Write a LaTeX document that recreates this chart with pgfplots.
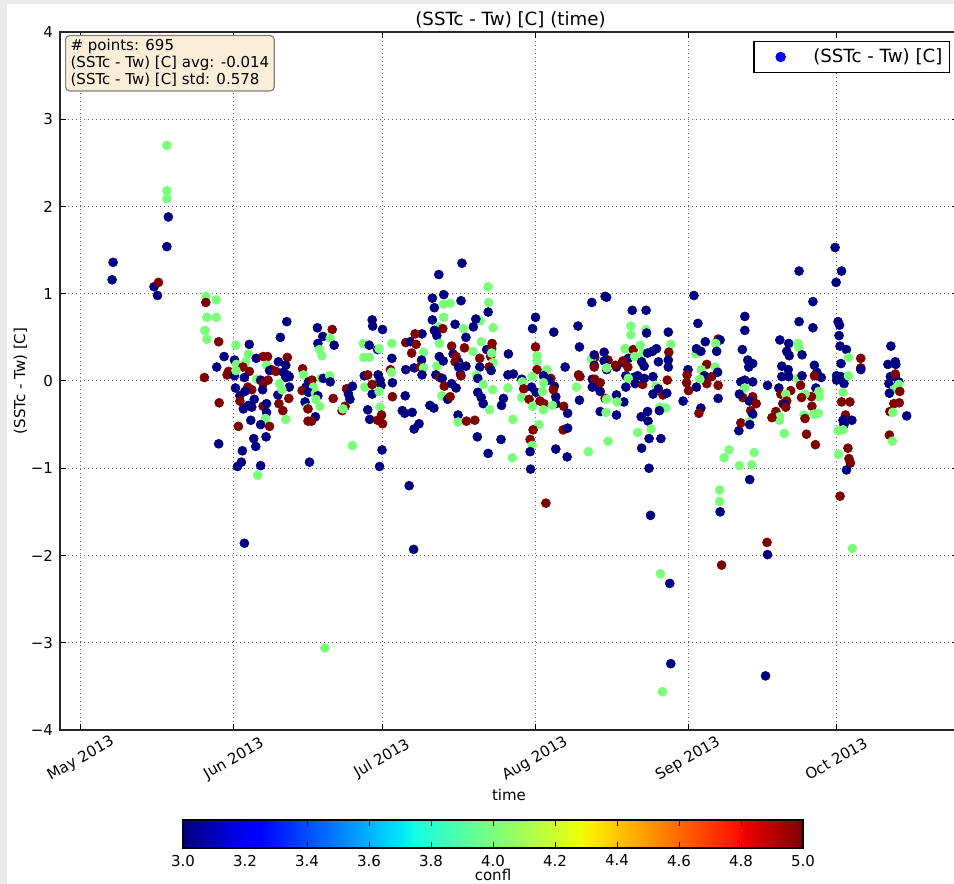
\documentclass[border=0pt]{standalone}
\usepackage{fontspec}
\setmainfont{DejaVu Sans}
\usepackage{pgfplots}
\pgfplotsset{compat=1.18}
\newcommand\tfont{\fontsize{7.5}{9}\selectfont}
\pgfplotsset{
  colormap={mpljet}{rgb(0pt)=(0,0,0.5); rgb(110pt)=(0,0,1); rgb(125pt)=(0,0,1); rgb(340pt)=(0,0.86,1); rgb(350pt)=(0,0.9,0.968); rgb(375pt)=(0.081,1,0.887); rgb(640pt)=(0.935,1,0.032); rgb(650pt)=(0.968,0.963,0); rgb(660pt)=(1,0.926,0); rgb(890pt)=(1,0.074,0); rgb(910pt)=(0.909,0,0); rgb(1000pt)=(0.5,0,0)},
  every tick label/.append style={font=\tfont},
  mylegimg/.style={legend image code/.code={\path (0pt,-2pt) (26pt,2pt); \draw[mark repeat=2,mark phase=2,##1] plot coordinates {(0pt,0pt) (13pt,0pt) (26pt,0pt)};}},
}
\definecolor{boxfill}{RGB}{250,238,217}
\definecolor{boxedge}{RGB}{128,128,128}
\definecolor{bggray}{RGB}{235,235,235}
\begin{document}
\begin{tikzpicture}
\fill[bggray] (0,0) rectangle (477pt,442pt);
\fill[white] (3.5pt,0) rectangle (477pt,440pt);
\useasboundingbox (0,0) rectangle (477pt,442pt);
\begin{axis}[
  at={(30pt,77pt)}, anchor=south west,
  width=449pt, height=349pt, scale only axis,
  xmin=-4.255, xmax=177.7, ymin=-4, ymax=4,
  xtick={0,31,61,92,123,153},
  xticklabels={May 2013,Jun 2013,Jul 2013,Aug 2013,Sep 2013,Oct 2013},
  ytick={-4,-3,-2,-1,0,1,2,3,4},
  yticklabels={−4,−3,−2,−1,0,1,2,3,4},
  grid=major,
  grid style={black!60, line width=0.5pt, dash pattern=on 0.5pt off 1.5pt},
  axis line style={black!85, line width=0.7pt},
  tick style={black, line width=0.5pt},
  major tick length=3pt,
  tick align=inside,
  x tick label style={yshift=-14.5pt, rotate=30, anchor=center},
  title={(SSTc - Tw) [C] (time)},
  title style={font=\fontsize{9.1}{11}\selectfont, at={(axis description cs:0.5,1)}, anchor=center, xshift=0.75pt},
  xlabel={time},
  xlabel style={font=\tfont, at={(axis description cs:0.5,-0.0931)}, anchor=center},
  ylabel={(SSTc - Tw) [C]},
  ylabel style={font=\tfont, at={(axis description cs:-0.044,0.5)}, anchor=center},
  legend style={at={(0.9911,0.9871)}, anchor=north east, draw=black, line width=0.6pt, fill=white, font=\fontsize{9.1}{11}\selectfont, inner xsep=0pt, inner ysep=1.5pt, column sep=3pt, nodes={inner xsep=0pt, inner ysep=2pt}},
  legend cell align=left,
  colormap name=mpljet,
  point meta min=3, point meta max=5,
]
\addlegendimage{only marks, mark=*, mark size=2.3pt, blue, mylegimg}
\addlegendentry{(SSTc - Tw) [C]\hspace*{3.5pt}}
\addplot[forget plot, scatter, only marks, mark=*, mark size=2.25pt, line width=0.3pt, point meta=explicit,
  scatter/use mapped color={draw=mapped color, fill=mapped color}] coordinates {
(6.5,1.36) [3] (6.3,1.16) [3] (14.8,1.08) [3] (15.5,0.98) [3] (15.7,1.13) [5] (17.7,1.88) [3] (17.4,1.54) [3] (17.4,2.70) [4] (17.4,2.18) [4] (17.4,2.09) [4]
(25.3,0.97) [4] (25.3,0.90) [5] (27.4,0.93) [4] (25.5,0.73) [4] (27.4,0.73) [4] (25.1,0.58) [4] (25.5,0.48) [4] (27.9,0.45) [5] (25.0,0.04) [5] (27.5,0.16) [3] (28.0,-0.25) [5] (27.9,-0.72) [3]
(41.7,0.68) [3] (40.4,0.50) [3] (47.9,0.61) [3] (50.9,0.59) [5] (49.0,0.51) [3] (50.5,0.49) [4] (48.0,0.43) [3] (51.3,0.41) [3] (48.3,0.36) [4] (48.8,0.29) [4]
(31.4,0.41) [4] (34.1,0.42) [3] (29.0,0.28) [3] (33.9,0.31) [4] (33.4,0.22) [4] (35.5,0.26) [3] (36.9,0.28) [5] (37.8,0.28) [5] (41.8,0.27) [5] (40.0,0.22) [3]
(31.1,0.24) [3] (31.5,0.19) [4] (32.8,0.16) [5] (34.1,0.11) [5] (37.6,0.18) [4] (41.5,0.18) [3] (38.6,0.13) [5] (38.2,0.12) [3] (39.5,0.11) [5] (41.0,0.10) [3]
(41.8,0.07) [3] (44.9,0.14) [5] (45.1,0.07) [4] (29.9,0.11) [5] (29.6,0.07) [5] (31.1,0.06) [3] (31.4,0.12) [4] (33.1,0.04) [3] (35.6,0.02) [4] (36.4,0.01) [3]
(37.9,0.01) [5] (41.5,0.04) [3] (42.2,0.05) [3] (46.1,-0.01) [3] (46.8,0.01) [5] (48.6,0.03) [4] (49.1,0.03) [3] (50.4,0.06) [4] (50.5,-0.01) [3] (40.2,-0.03) [4]
(42.2,-0.07) [3] (36.9,-0.03) [5] (36.8,-0.10) [3] (31.3,-0.08) [3] (33.8,-0.07) [5] (34.6,-0.10) [5] (33.2,-0.12) [3] (32.2,-0.17) [3] (39.9,-0.16) [3] (42.1,-0.20) [5]
(40.7,-0.10) [4] (45.6,-0.07) [3] (47.1,-0.07) [4] (44.8,-0.11) [5] (46.1,-0.13) [3] (47.5,-0.14) [4] (48.0,-0.17) [3] (47.6,-0.21) [4] (51.1,-0.20) [5] (53.8,-0.09) [5]
(55.0,-0.06) [3] (54.2,-0.15) [3] (54.5,-0.21) [3] (45.4,-0.24) [3] (40.1,-0.26) [5] (35.1,-0.21) [3] (33.9,-0.28) [3] (32.9,-0.32) [3] (34.6,-0.30) [3] (32.2,-0.23) [5]
(36.9,-0.29) [5] (37.6,-0.26) [3] (37.6,-0.36) [3] (40.9,-0.34) [5] (45.8,-0.31) [4] (46.0,-0.32) [5] (48.4,-0.29) [4] (52.9,-0.34) [5] (53.5,-0.29) [5] (53.1,-0.32) [4]
(47.5,-0.41) [3] (46.0,-0.46) [5] (46.7,-0.46) [5] (41.5,-0.44) [4] (37.4,-0.43) [4] (34.4,-0.45) [3] (36.4,-0.50) [3] (38.2,-0.52) [5] (31.9,-0.52) [5] (37.5,-0.64) [3]
(35.0,-0.66) [3] (35.4,-0.75) [3] (32.7,-0.80) [3] (55.0,-0.74) [4] (46.3,-0.93) [3] (32.5,-0.93) [3] (31.7,-0.98) [3] (36.4,-0.97) [3] (35.8,-1.08) [4] (33.1,-1.86) [3]
(49.4,-3.06) [4]
(57.2,0.43) [4] (57.3,0.27) [4] (58.4,0.27) [4] (58.4,0.41) [3] (60.1,0.36) [3] (60.4,0.37) [4] (59.0,0.70) [3] (59.1,0.63) [3] (61.1,0.59) [3] (63.0,0.43) [4]
(63.0,0.26) [3] (62.7,0.13) [5] (62.9,0.10) [4] (63.1,-0.02) [3] (63.1,-0.18) [5] (57.4,0.06) [3] (58.1,0.07) [5] (60.2,0.07) [3] (60.6,0.01) [3] (60.8,-0.05) [3]
(57.5,-0.07) [4] (59.0,-0.04) [5] (59.0,-0.15) [3] (60.4,-0.12) [4] (58.1,-0.33) [3] (60.6,-0.30) [4] (58.5,-0.44) [3] (60.9,-0.39) [5] (60.1,-0.45) [5] (61.1,-0.49) [5]
(61.0,-0.79) [3] (60.5,-0.98) [3] (66.5,-1.20) [3] (67.4,-1.93) [3] (65.8,0.13) [3] (65.8,0.44) [5] (66.7,0.45) [3] (67.0,0.32) [5] (67.5,0.15) [3] (67.9,0.42) [5]
(68.9,0.16) [3] (69.1,0.54) [3] (67.7,0.54) [5] (69.4,0.33) [4] (69.0,0.24) [3] (68.8,0.16) [5] (69.4,0.15) [4] (69.1,0.07) [3] (65.7,-0.17) [3] (65.1,-0.34) [3]
(65.6,-0.37) [3] (67.1,-0.36) [3] (70.7,-0.28) [3] (71.5,-0.31) [3] (68.5,-0.49) [3] (67.5,-0.55) [3]
(77.2,1.35) [3] (72.5,1.22) [3] (73.5,0.99) [3] (71.2,0.95) [3] (71.6,0.84) [3] (73.4,0.88) [4] (74.8,0.89) [4] (77.0,0.92) [3] (82.5,1.08) [4] (82.6,0.90) [4]
(82.5,0.79) [3] (80.9,0.69) [4] (80.0,0.71) [3] (83.5,0.61) [4] (75.8,0.65) [3] (77.5,0.60) [4] (73.5,0.73) [4] (71.2,0.70) [3] (72.5,0.62) [4] (73.3,0.60) [5]
(71.6,0.58) [3] (72.1,0.52) [3] (79.5,0.62) [3] (78.0,0.50) [3] (72.6,0.43) [4] (81.1,0.45) [4] (79.4,0.34) [4] (75.1,0.40) [5] (77.7,0.38) [5] (75.4,0.31) [3]
(76.0,0.28) [5] (76.5,0.22) [3] (75.8,0.22) [5] (76.7,0.16) [4] (78.0,0.17) [3] (80.8,0.26) [5] (83.3,0.43) [5] (82.2,0.36) [3] (83.2,0.37) [5] (83.0,0.28) [5]
(83.2,0.32) [4] (83.5,0.21) [4] (80.8,0.16) [3] (82.7,0.16) [5] (83.1,0.12) [3] (76.9,0.08) [3] (77.0,0.06) [5] (76.5,0.16) [3] (72.1,0.17) [4] (72.6,0.28) [3]
(73.4,0.23) [3] (71.9,0.07) [3] (72.7,0.04) [5] (73.2,0.03) [3] (73.6,-0.06) [5] (75.1,-0.03) [3] (76.0,-0.08) [3] (80.1,0.07) [4] (80.4,0.03) [3] (81.5,-0.04) [4]
(83.4,-0.10) [4] (80.4,-0.13) [3] (81.1,-0.19) [3] (81.5,-0.26) [3] (73.1,-0.17) [4] (74.3,-0.21) [3] (74.8,-0.18) [5] (76.4,-0.39) [3] (76.4,-0.47) [4] (78.1,-0.46) [5]
(79.8,-0.45) [5] (82.8,-0.33) [4] (80.3,-0.64) [3] (85.1,-0.67) [3] (82.5,-0.83) [3] (87.4,-0.88) [4] (87.5,-0.44) [4] (85.6,-0.20) [3] (85.2,-0.28) [3] (86.5,-0.08) [4]
(87.6,0.08) [3] (86.5,0.07) [3] (89.3,0.02) [3] (89.4,-0.01) [4] (89.7,-0.09) [5] (89.3,-0.19) [4] (86.6,0.31) [3]
(92.1,0.73) [3] (91.5,0.60) [3] (92.1,0.39) [5] (92.4,0.29) [4] (92.4,0.23) [4] (92.4,0.13) [5] (94.4,0.13) [4] (93.7,0.06) [3] (95.8,0.56) [3] (95.2,0.03) [5]
(94.7,0.01) [3] (93.7,-0.02) [4] (95.9,-0.06) [3] (91.4,0.05) [4] (91.3,-0.07) [3] (90.8,-0.21) [5] (91.5,-0.29) [4] (92.2,-0.13) [3] (93.0,-0.23) [5] (93.8,-0.26) [5]
(93.7,-0.33) [4] (96.2,-0.18) [3] (96.2,-0.26) [3] (95.5,-0.28) [4] (97.8,-0.29) [5] (98.6,-0.37) [3] (92.8,-0.50) [4] (91.6,-0.56) [5] (97.7,-0.56) [5] (98.6,-0.54) [3]
(91.0,-0.67) [5] (91.4,-0.74) [4] (91.0,-0.81) [3] (91.1,-1.01) [3] (96.2,-0.78) [3] (98.5,-0.87) [3] (98.1,0.16) [3] (100.7,0.63) [3] (101.0,0.39) [3] (100.4,-0.07) [4]
(101.0,-0.22) [3] (100.8,0.07) [5] (101.1,0.05) [5] (94.2,-1.40) [5] (95.7,-0.10) [5] (93.5,-0.12) [4]
(103.5,0.90) [3] (106.2,0.97) [3] (106.5,0.96) [3] (111.7,0.81) [3] (111.4,0.63) [4] (111.4,0.53) [4] (103.6,0.02) [3] (104.1,0.27) [5] (103.4,0.25) [4] (104.0,0.18) [3]
(106.0,0.33) [3] (106.8,0.24) [5] (106.5,0.13) [3] (104.7,-0.05) [3] (105.2,-0.12) [3] (106.2,-0.20) [5] (106.5,-0.21) [4] (108.5,-0.16) [3] (105.2,-0.35) [3] (106.4,-0.36) [4]
(108.5,-0.39) [3] (110.0,-0.24) [3] (108.6,-0.24) [4] (106.8,-0.69) [4] (102.8,-0.81) [4] (108.5,0.16) [3] (108.3,0.18) [5] (109.9,0.21) [3] (110.2,0.37) [4] (111.9,0.36) [5]
(110.9,0.26) [3] (112.2,0.28) [4] (110.4,0.06) [3] (111.9,0.04) [3] (112.8,0.06) [3] (110.9,0.03) [4] (110.4,-0.07) [3] (112.3,-0.03) [3] (112.8,-0.59) [4] (104.1,0.02) [5]
(105.2,-0.02) [5] (103.6,-0.07) [3] (109.8,0.23) [5] (110.8,0.16) [5] (104.0,0.30) [3] (104.0,0.16) [5] (106.0,0.23) [3] (106.5,0.15) [4]
(114.5,0.81) [3] (114.5,0.59) [4] (114.6,0.55) [3] (119.0,0.56) [3] (119.5,0.42) [4] (124.2,0.98) [3] (125.0,0.66) [3] (126.5,0.45) [3] (113.3,0.41) [4] (113.9,0.32) [4]
(114.8,0.32) [3] (115.8,0.34) [3] (116.6,0.37) [3] (119.1,0.33) [5] (119.0,0.24) [3] (117.0,0.22) [3] (113.6,0.22) [3] (114.1,0.17) [3] (113.8,-0.04) [5] (114.1,0.03) [3]
(115.9,0.05) [3] (119.0,0.16) [3] (118.8,0.01) [5] (116.5,-0.06) [4] (117.0,-0.09) [3] (115.9,-0.15) [3] (117.9,-0.16) [5] (118.7,-0.14) [3] (123.0,0.13) [3] (124.6,0.31) [4]
(124.7,0.37) [3] (125.6,0.34) [3] (126.8,0.19) [5] (125.7,0.13) [4] (126.3,0.06) [3] (126.8,-0.03) [5] (125.4,0.02) [4] (122.8,0.07) [5] (122.7,-0.02) [5] (124.7,-0.07) [3]
(123.1,-0.11) [5] (122.0,-0.23) [3] (125.6,-0.31) [3] (125.2,-0.37) [5] (117.3,-0.30) [4] (118.5,-0.31) [4] (117.2,-0.34) [3] (113.5,-0.41) [3] (114.8,-0.35) [3] (114.9,-0.46) [3]
(115.5,-0.55) [4] (115.1,-0.66) [3] (117.5,-0.66) [3] (113.6,-0.77) [3] (115.1,-1.00) [3] (115.4,-1.54) [3] (117.4,-2.21) [4] (119.3,-2.32) [3] (119.5,-3.24) [3] (117.8,-3.56) [4]
(129.1,0.48) [5] (129.5,0.47) [3] (128.6,0.43) [4] (128.8,0.34) [3] (128.5,0.16) [4] (127.8,0.05) [5] (129.0,0.10) [3] (129.1,-0.05) [5] (129.1,-0.20) [3] (129.4,-1.25) [4]
(129.4,-1.38) [4] (129.5,-1.50) [3] (129.8,-2.11) [5] (134.5,0.74) [3] (134.5,0.58) [3] (134.0,0.36) [3] (135.1,0.24) [3] (135.3,0.16) [3] (136.1,0.20) [3] (133.7,-0.01) [3]
(134.5,0.01) [3] (136.1,-0.01) [3] (134.5,-0.08) [4] (134.1,-0.19) [5] (133.4,-0.15) [3] (136.1,-0.18) [5] (135.4,-0.23) [3] (136.8,-0.26) [5] (135.7,-0.34) [5] (136.1,-0.38) [3]
(133.3,-0.57) [3] (133.7,-0.48) [5] (135.4,-0.47) [4] (135.5,-0.50) [3] (131.3,-0.79) [4] (130.3,-0.88) [4] (133.4,-0.97) [4] (135.9,-0.96) [4] (136.4,-0.82) [4] (135.5,-1.13) [3]
(139.0,-1.85) [5] (139.1,-1.99) [3] (138.7,-3.38) [3] (139.1,-0.05) [3] (141.6,0.47) [3] (143.4,0.43) [3] (143.0,0.34) [3] (143.5,0.29) [3] (145.3,0.43) [4] (145.5,0.38) [4]
(146.1,0.30) [3] (142.0,0.17) [3] (143.3,0.13) [3] (142.0,0.05) [3] (143.4,0.05) [3] (145.2,0.03) [4] (146.1,0.06) [3] (148.6,0.18) [3] (149.1,0.10) [3] (150.0,0.04) [3]
(148.6,0.06) [5] (145.8,-0.05) [5] (141.4,-0.08) [3] (141.8,-0.15) [5] (143.8,-0.11) [5] (142.8,-0.15) [4] (148.9,-0.08) [3] (149.5,-0.12) [4] (149.6,-0.18) [4] (148.0,-0.18) [5]
(146.7,-0.15) [4] (146.0,-0.19) [5] (143.0,-0.23) [5] (142.2,-0.26) [5] (142.6,-0.27) [3] (142.8,-0.30) [5] (140.8,-0.35) [5] (141.5,-0.41) [4] (141.5,-0.45) [4] (140.0,-0.42) [5]
(148.1,-0.29) [5] (146.5,-0.39) [4] (148.5,-0.38) [4] (149.4,-0.37) [4] (146.7,-0.43) [5] (142.5,-0.60) [4] (147.0,-0.61) [5] (148.8,-0.73) [5] (145.5,1.26) [3] (145.5,0.68) [3]
(148.3,0.91) [3] (148.3,0.61) [3]
(152.8,1.53) [3] (154.1,1.26) [3] (153.0,1.13) [3] (153.4,0.68) [3] (153.7,0.64) [3] (153.6,0.52) [3] (153.8,0.40) [3] (155.1,0.36) [3] (154.0,0.20) [3] (155.5,0.27) [4]
(153.1,0.06) [3] (153.1,0.01) [3] (154.0,0.05) [3] (154.6,-0.03) [3] (155.5,0.06) [4] (154.4,-0.13) [4] (154.1,-0.24) [5] (155.8,-0.24) [5] (154.9,-0.39) [5] (154.4,-0.45) [3]
(154.6,-0.50) [3] (156.2,-0.45) [3] (153.4,-0.57) [4] (154.4,-0.56) [4] (153.5,-0.84) [4] (155.4,-0.77) [5] (155.6,-0.89) [5] (155.9,-0.94) [5] (155.1,-1.02) [3] (153.8,-1.32) [5]
(156.3,-1.92) [4] (158.0,0.26) [5] (158.0,0.15) [5] (158.0,0.13) [3]
(164.1,0.40) [3] (163.5,0.19) [3] (165.0,0.22) [3] (165.1,0.19) [3] (164.0,0.05) [3] (165.0,0.05) [3] (165.0,0.08) [5] (165.7,-0.01) [3] (165.7,-0.04) [4] (163.7,-0.03) [3]
(164.7,-0.10) [4] (165.9,-0.12) [5] (163.8,-0.14) [3] (165.8,-0.25) [5] (164.7,-0.26) [5] (163.9,-0.35) [5] (164.5,-0.36) [4] (167.3,-0.40) [3] (163.8,-0.62) [5] (164.4,-0.69) [4]
};
\node[anchor=north west, draw=boxedge, fill=boxfill, rounded corners=2pt, line width=0.6pt, align=left, inner xsep=2.5pt, inner ysep=2pt, font=\fontsize{7.5}{8.5}\selectfont] at (rel axis cs:0.0056,0.9957) {\# points: 695\\(SSTc - Tw) [C] avg: -0.014\\(SSTc - Tw) [C] std: 0.578};
\end{axis}
% colour bar for confl
\begin{axis}[
  at={(91.5pt,18pt)}, anchor=south west,
  width=310pt, height=14pt, scale only axis,
  xmin=3, xmax=5, ymin=0, ymax=1,
  axis on top,
  colormap name=mpljet,
  point meta min=3, point meta max=5,
  xtick={3,3.2,3.4,3.6,3.8,4,4.2,4.4,4.6,4.8,5},
  xticklabels={3.0,3.2,3.4,3.6,3.8,4.0,4.2,4.4,4.6,4.8,5.0},
  xtick pos=both, xticklabel pos=lower,
  ytick=\empty,
  tick align=inside,
  major tick length=3pt,
  tick style={black, line width=0.5pt},
  axis line style={black, line width=0.6pt},
  xlabel={confl},
  xlabel style={font=\tfont, at={(axis description cs:0.5,0)}, anchor=center, yshift=-13.5pt},
]
\addplot[patch, patch type=rectangle, shader=interp, point meta=x] coordinates {
(3,0) (3.22,0) (3.22,1) (3,1)
(3.22,0) (3.25,0) (3.25,1) (3.22,1)
(3.25,0) (3.68,0) (3.68,1) (3.25,1)
(3.68,0) (3.70,0) (3.70,1) (3.68,1)
(3.70,0) (3.75,0) (3.75,1) (3.70,1)
(3.75,0) (4.28,0) (4.28,1) (3.75,1)
(4.28,0) (4.30,0) (4.30,1) (4.28,1)
(4.30,0) (4.32,0) (4.32,1) (4.30,1)
(4.32,0) (4.78,0) (4.78,1) (4.32,1)
(4.78,0) (4.82,0) (4.82,1) (4.78,1)
(4.82,0) (5,0) (5,1) (4.82,1)
};
\end{axis}
\end{tikzpicture}
\end{document}
